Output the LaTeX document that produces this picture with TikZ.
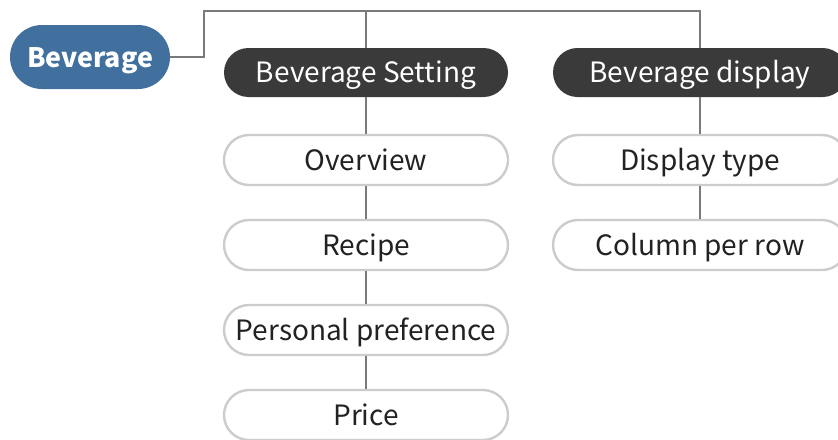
\documentclass[tikz,border=0pt]{standalone}
\usepackage{fontspec}
\setmainfont{Noto Sans CJK SC}
\usepackage{xcolor}
\usetikzlibrary{positioning,calc}
\definecolor{bevBlue}{HTML}{41709F}
\definecolor{bevDark}{HTML}{3B3A3A}
\definecolor{bevEdge}{HTML}{CCCCCC}
\definecolor{bevLine}{HTML}{7A7A7A}
\definecolor{bevText}{HTML}{222222}
\tikzset{
  pill text/.style={
    font=\fontsize{14}{17}\selectfont,
    text height=12pt, text depth=2pt,
  },
  root pill/.style={
    rectangle, rounded corners=16pt,
    fill=bevBlue, text=white, pill text,
    font=\fontsize{13.4}{17}\selectfont\bfseries,
    minimum width=80pt, minimum height=32pt,
    inner sep=0pt,
  },
  group pill/.style={
    rectangle, rounded corners=12.25pt,
    fill=bevDark, text=white, pill text,
    minimum width=142pt, minimum height=24.5pt,
    inner sep=0pt,
  },
  leaf pill/.style={
    rectangle, rounded corners=12.5pt,
    draw=bevEdge, line width=1.2pt, fill=white, text=bevText, pill text,
    minimum width=142pt, minimum height=25pt,
    inner sep=0pt,
  },
  link/.style={draw=bevLine, line width=1pt},
}

\begin{document}
\begin{tikzpicture}[x=0.5pt, y=-0.5pt]
\useasboundingbox (0,0) rectangle (838,439);

% --- root ---
\node[root pill] (bev) at (90,57) {Beverage};
\coordinate (bend) at (204,11);

% --- column 1: setting ---
\node[group pill] (setting) at (366,72.5) {Beverage Setting};
\node[leaf pill, below=18.2pt of setting] (overview) {Overview};
\node[leaf pill, below=16.3pt of overview] (recipe) {Recipe};
\node[leaf pill, below=16.3pt of recipe] (preference) {Personal preference};
\node[leaf pill, below=16.3pt of preference] (price) {Price};

% --- column 2: display ---
\node[group pill, minimum width=147pt] (display) at (700,72.5) {Beverage display};
\node[leaf pill, minimum width=147pt, below=18.2pt of display] (disptype) {Display type};
\node[leaf pill, minimum width=147pt, below=16.3pt of disptype] (columns) {Column per row};

% --- links ---
\draw[link] (bev.east) -| (bend) -| (display.north);
\draw[link] (setting.north) -- (setting.north |- bend);
\draw[link] (setting) -- (overview) -- (recipe) -- (preference) -- (price);
\draw[link] (display) -- (disptype) -- (columns);

\end{tikzpicture}
\end{document}
